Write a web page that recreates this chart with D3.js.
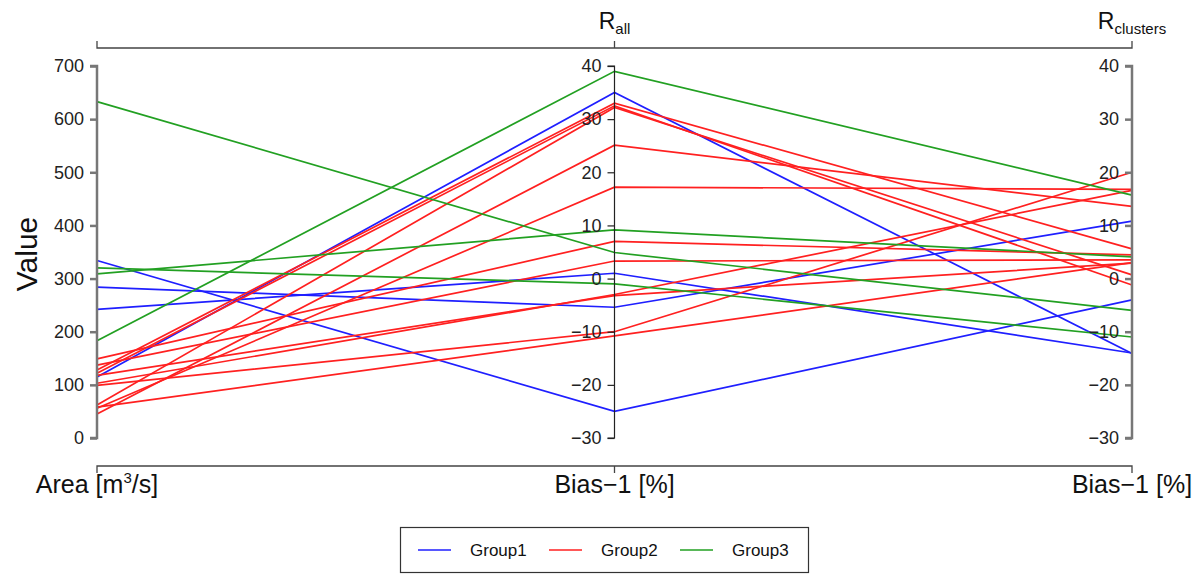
<!DOCTYPE html>
<html>
<head>
<meta charset="utf-8">
<script src="https://cdn.jsdelivr.net/npm/d3@7"></script>
<style>
  html, body { margin: 0; padding: 0; background: #fff; }
  svg { display: block; font-family: "Liberation Sans", Arial, Helvetica, sans-serif; }
</style>
</head>
<body>
<svg id="chart" width="1203" height="574"></svg>
<script>
// Group membership of each catchment line
const groups = [
  "Group1","Group1","Group1","Group1",
  "Group2","Group2","Group2","Group2","Group2","Group2","Group2","Group2","Group2","Group2","Group2",
  "Group3","Group3","Group3","Group3"
];
// Area [m3/s]
const areaValues = [334, 284, 242, 115,
  128, 122, 62, 45, 56, 149, 137, 103, 118, 99, 58,
  633, 320, 309, 183];
// Bias-1 [%] for R_all
const rAllValues = [-25, -5.4, 1.0, 35,
  33.0, 32.5, 32.2, 25.1, 17.2, 7.0, 3.3, -3.0, -3.2, -10.0, -10.8,
  4.9, -1.0, 9.15, 39];
// Bias-1 [%] for R_clusters
const rClustersValues = [-4, 10.8, -14, -14.1,
  5.6, -1.2, 0.7, 13.6, 16.8, 4.45, 3.5, 16.6, 2.9, 20.0, 3.0,
  -6, -11, 4.1, 15.7];

const groupNames = ["Group1", "Group2", "Group3"];
const groupColors = ["#1f1fff", "#ff2020", "#22a022"];

const areaTicks = [0, 100, 200, 300, 400, 500, 600, 700];
const biasTicks = [-30, -20, -10, 0, 10, 20, 30, 40];

const svg = d3.select("#chart");

const x = d3.scalePoint().domain(["area", "rAll", "rClusters"]).range([97, 1132]);
const yArea = d3.scaleLinear().domain([0, 700]).range([438, 66]);
const yBias = d3.scaleLinear().domain([-30, 40]).range([438, 66]);
const color = d3.scaleOrdinal().domain(groupNames).range(groupColors);

const fmt = d => (d < 0 ? "\u2212" + Math.abs(d) : String(d));

// Data lines
const rows = groups.map((g, i) => ({
  g, pts: [
    [x("area"), yArea(areaValues[i])],
    [x("rAll"), yBias(rAllValues[i])],
    [x("rClusters"), yBias(rClustersValues[i])]
  ]
}));
const line = d3.line();
svg.append("g").selectAll("path").data(rows).join("path")
  .attr("d", d => line(d.pts))
  .attr("fill", "none")
  .attr("stroke", d => color(d.g))
  .attr("stroke-width", 1.7);

// Axes
function drawAxis(scale, ticks, xpos, stroke, width) {
  const g = svg.append("g").attr("transform", `translate(${xpos},0)`)
    .call(d3.axisLeft(scale).tickValues(ticks).tickFormat(fmt).tickSize(7).tickPadding(6));
  g.select(".domain").attr("d", `M-7,${scale.range()[0]}H0V${scale.range()[1]}H-7`)
    .attr("stroke", stroke).attr("stroke-width", width);
  g.selectAll(".tick line").attr("stroke", stroke).attr("stroke-width", width);
  g.selectAll(".tick text").attr("font-size", 18).attr("fill", "#222")
    .attr("font-family", "Liberation Sans, Arial, sans-serif");
  return g;
}
drawAxis(yArea, areaTicks, x("area"), "#777", 2.5);
drawAxis(yBias, biasTicks, x("rAll"), "#222", 1.2);
drawAxis(yBias, biasTicks, x("rClusters"), "#777", 2.5);

// Top bracket with axis titles
const topBracket = svg.append("g");
topBracket.append("path")
  .attr("d", `M${x("area")},41V48H${x("rClusters")}V41M${x("rAll")},48V41`)
  .attr("fill", "none").attr("stroke", "#444").attr("stroke-width", 1.3);
const topTitles = [["rAll", "R", "all"], ["rClusters", "R", "clusters"]];
topTitles.forEach(([k, main, sub]) => {
  const t = topBracket.append("text").attr("x", x(k)).attr("y", 29)
    .attr("text-anchor", "middle").attr("font-size", 23).attr("fill", "#111");
  t.append("tspan").text(main);
  t.append("tspan").attr("font-size", 15).attr("dy", 5).text(sub);
});

// Bottom bracket with units
const botBracket = svg.append("g");
botBracket.append("path")
  .attr("d", `M${x("area")},473V466H${x("rClusters")}V473M${x("rAll")},466V473`)
  .attr("fill", "none").attr("stroke", "#444").attr("stroke-width", 1.3);
const areaLabel = botBracket.append("text").attr("x", x("area")).attr("y", 493)
  .attr("text-anchor", "middle").attr("font-size", 25).attr("fill", "#111");
areaLabel.append("tspan").text("Area [m");
areaLabel.append("tspan").attr("font-size", 15).attr("dy", -10).text("3");
areaLabel.append("tspan").attr("dy", 10).text("/s]");
["rAll", "rClusters"].forEach(k => {
  botBracket.append("text").attr("x", x(k)).attr("y", 493)
    .attr("text-anchor", "middle").attr("font-size", 25).attr("fill", "#111")
    .text("Bias\u22121 [%]");
});

// Y title
svg.append("text").attr("transform", "translate(37,254) rotate(-90)")
  .attr("text-anchor", "middle").attr("font-size", 30).attr("fill", "#111")
  .text("Value");

// Legend
const leg = svg.append("g");
leg.append("rect").attr("x", 400.5).attr("y", 527.5).attr("width", 408).attr("height", 45)
  .attr("fill", "#fff").attr("stroke", "#333").attr("stroke-width", 1.2);
const legX = [418, 549, 680];
groupNames.forEach((name, i) => {
  leg.append("line").attr("x1", legX[i]).attr("x2", legX[i] + 33)
    .attr("y1", 550).attr("y2", 550)
    .attr("stroke", color(name)).attr("stroke-width", 1.5);
  leg.append("text").attr("x", legX[i] + 52).attr("y", 556)
    .attr("font-size", 17).attr("fill", "#111").text(name);
});
</script>
</body>
</html>
